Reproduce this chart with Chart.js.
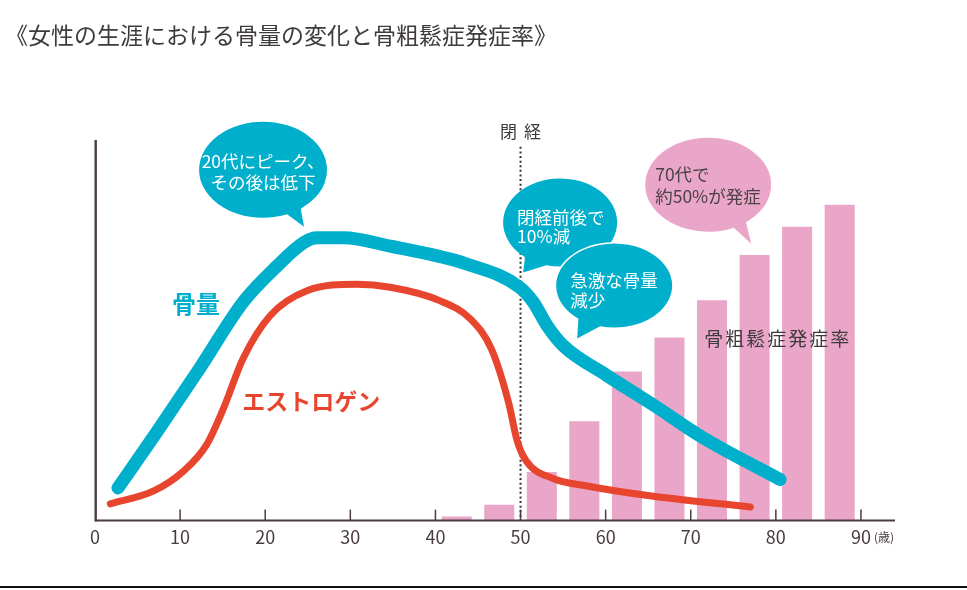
<!DOCTYPE html>
<html lang="ja">
<head>
<meta charset="utf-8">
<script src="https://cdn.jsdelivr.net/npm/chart.js@4/dist/chart.umd.min.js"></script>
<style>
  html, body { margin: 0; padding: 0; background: #fff; }
  canvas { display: block; }
</style>
</head>
<body>
<canvas id="c" width="967" height="590"></canvas>
<script>
// ---------- data ----------
const chartTitle = '《女性の生涯における骨量の変化と骨粗鬆症発症率》';
const ageTicks = [0, 10, 20, 30, 40, 50, 60, 70, 80, 90];
const ageUnit = '(歳)';
const menopauseAge = 50;

const boneAges   = [2.7, 7.3, 12.3, 17.4, 21.4, 24.5, 26.1, 29.2, 34.7, 43.7, 49.9, 51.5, 53.1, 55.0, 60.1, 65.6, 71.5, 80.5];
const boneValues = [8.6, 23.4, 40.0, 57.4, 66.9, 73.0, 74.3, 74.3, 72.1, 67.4, 61.3, 57.4, 51.3, 46.0, 38.2, 30.4, 21.7, 10.8];

const estrogenAges   = [1.8, 6.9, 10.4, 13.1, 15.1, 17.4, 20.6, 24.9, 30.8, 34.7, 40.5, 44.1, 46.6, 48.6, 49.6, 50.7, 53.9, 57.8, 65.6, 77.0];
const estrogenValues = [4.4, 7.8, 13.0, 19.9, 29.5, 42.6, 53.9, 60.4, 62.1, 61.3, 57.8, 53.0, 45.0, 31.0, 21.0, 15.6, 11.0, 9.1, 6.4, 3.6];

const rateAges   = [42.5, 47.5, 52.5, 57.5, 62.5, 67.5, 72.5, 77.5, 82.5, 87.5];
const rateValues = [1.0, 4.1, 12.7, 26.0, 39.1, 48.0, 57.8, 69.7, 77.1, 82.9];

const boneLabel = '骨量';
const estrogenLabel = 'エストロゲン';
const rateLabel = '骨粗鬆症発症率';
const menopauseLabel = '閉経';

// ---------- styles ----------
const CYAN = '#00AFCB';
const RED = '#E8452F';
const PINK = '#EAA6C9';
const AXIS = '#4B3C41';
const TEXT = '#3F3A3B';
const FONT = "'Noto Sans CJK JP', 'Noto Sans', sans-serif";

// annotations placed in data units (age, value)
const labels = [
  { text: boneLabel, x: 11.87, y: 56.9, font: `bold 24px ${FONT}`, color: CYAN, spacing: 0 },
  { text: estrogenLabel, x: 25.4, y: 31.3, font: `bold 23px ${FONT}`, color: RED, spacing: 0 },
  { text: rateLabel, x: 80.1, y: 47.8, font: `19px ${FONT}`, color: TEXT, spacing: 2 },
  { text: menopauseLabel, x: menopauseAge, y: 102.2, font: `17px ${FONT}`, color: TEXT, spacing: 7 }
];

const bubbles = [
  { x: 19.75, y: 92.17, rx: 64, ry: 48, a1: 54, a2: 68, tip: [41, 57], fill: CYAN, color: '#fff',
    lines: ['20代にピーク、', 'その後は低下'], align: 'center', tx: 0, ty: [-8, 13] },
  { x: 54.65, y: 78.33, rx: 57, ry: 44, a1: 104, a2: 128, tip: [-37, 50], fill: CYAN, color: '#fff',
    lines: ['閉経前後で', '10%減'], align: 'left', tx: -43, ty: [-5, 14] },
  { x: 61.0, y: 61.75, rx: 58, ry: 42, a1: 104, a2: 128, tip: [-37, 53], fill: CYAN, color: '#fff', stroke: '#fff',
    lines: ['急激な骨量', '減少'], align: 'left', tx: -44, ty: [-5, 15] },
  { x: 72.05, y: 88.25, rx: 63, ry: 47, a1: 53, a2: 66, tip: [43, 59], fill: PINK, color: '#4A4244',
    lines: ['70代で', '約50%が発症'], align: 'left', tx: -53, ty: [-10, 12] }
];

function rad(d) { return d * Math.PI / 180; }

function drawBubble(ctx, cx, cy, b) {
  const p2 = [cx + b.rx * Math.cos(rad(b.a2)), cy + b.ry * Math.sin(rad(b.a2))];
  const tip = [cx + b.tip[0], cy + b.tip[1]];
  ctx.save();
  ctx.beginPath();
  ctx.moveTo(tip[0], tip[1]);
  ctx.lineTo(p2[0], p2[1]);
  ctx.ellipse(cx, cy, b.rx, b.ry, 0, rad(b.a2), rad(b.a1) + Math.PI * 2, false);
  ctx.closePath();
  ctx.fillStyle = b.fill;
  ctx.fill();
  if (b.stroke) {
    ctx.lineWidth = 3;
    ctx.strokeStyle = b.stroke;
    ctx.lineJoin = 'round';
    ctx.stroke();
    ctx.fill();
  }
  ctx.fillStyle = b.color;
  ctx.font = `17.5px ${FONT}`;
  ctx.textAlign = b.align;
  ctx.textBaseline = 'middle';
  b.lines.forEach((t, i) => ctx.fillText(t, cx + b.tx, cy + b.ty[i]));
  ctx.restore();
}

const deco = {
  id: 'deco',
  beforeDatasetsDraw(chart) {
    const { ctx, scales: { x, y } } = chart;
    const px = x.getPixelForValue(menopauseAge);
    ctx.save();
    ctx.strokeStyle = '#3A3133';
    ctx.lineWidth = 2;
    ctx.setLineDash([2, 2.6]);
    ctx.beginPath();
    ctx.moveTo(px, y.getPixelForValue(98.2));
    ctx.lineTo(px, y.getPixelForValue(0));
    ctx.stroke();
    ctx.restore();
  },
  afterDatasetsDraw(chart) {
    const { ctx, chartArea: ca, scales: { x, y } } = chart;
    ctx.save();
    // axes
    ctx.strokeStyle = AXIS;
    ctx.lineWidth = 2.4;
    ctx.beginPath();
    ctx.moveTo(ca.left + 0.7, ca.top);
    ctx.lineTo(ca.left + 0.7, ca.bottom + 1);
    ctx.stroke();
    ctx.lineWidth = 2;
    ctx.beginPath();
    ctx.moveTo(ca.left, ca.bottom);
    ctx.lineTo(ca.right, ca.bottom);
    ctx.stroke();
    // inward tick marks
    ctx.lineWidth = 1.5;
    ageTicks.forEach(v => {
      if (v === 0) return;
      const px = x.getPixelForValue(v);
      ctx.beginPath();
      ctx.moveTo(px, ca.bottom);
      ctx.lineTo(px, ca.bottom - 11);
      ctx.stroke();
    });
    // unit
    ctx.fillStyle = AXIS;
    ctx.font = `12px ${FONT}`;
    ctx.textAlign = 'left';
    ctx.textBaseline = 'middle';
    ctx.fillText(ageUnit, x.getPixelForValue(90) + 13, ca.bottom + 17);
    // labels
    labels.forEach(l => {
      ctx.font = l.font;
      ctx.fillStyle = l.color;
      ctx.textAlign = 'center';
      ctx.textBaseline = 'middle';
      ctx.letterSpacing = l.spacing + 'px';
      ctx.fillText(l.text, x.getPixelForValue(l.x) + l.spacing / 2, y.getPixelForValue(l.y));
    });
    ctx.letterSpacing = '0px';
    // bubbles
    bubbles.forEach(b => drawBubble(ctx, x.getPixelForValue(b.x), y.getPixelForValue(b.y), b));
    // title
    ctx.fillStyle = TEXT;
    ctx.font = `23px ${FONT}`;
    ctx.textAlign = 'left';
    ctx.textBaseline = 'middle';
    ctx.fillText(chartTitle, 5, 35);
    // bottom rule
    ctx.strokeStyle = '#111';
    ctx.lineWidth = 2;
    ctx.beginPath();
    ctx.moveTo(0, 587);
    ctx.lineTo(chart.width, 587);
    ctx.stroke();
    ctx.restore();
  }
};

Chart.defaults.font.family = FONT;

new Chart(document.getElementById('c'), {
  type: 'line',
  data: {
    datasets: [
      {
        type: 'line', label: boneLabel,
        data: boneAges.map((a, i) => ({ x: a, y: boneValues[i] })),
        borderColor: CYAN, borderWidth: 13, borderCapStyle: 'round', borderJoinStyle: 'round',
        cubicInterpolationMode: 'monotone', pointRadius: 0, fill: false, clip: false, order: 1
      },
      {
        type: 'line', label: estrogenLabel,
        data: estrogenAges.map((a, i) => ({ x: a, y: estrogenValues[i] })),
        borderColor: RED, borderWidth: 7, borderCapStyle: 'round', borderJoinStyle: 'round',
        cubicInterpolationMode: 'monotone', pointRadius: 0, fill: false, clip: false, order: 2
      },
      {
        type: 'bar', label: rateLabel,
        data: rateAges.map((a, i) => ({ x: a, y: rateValues[i] })),
        backgroundColor: PINK, borderWidth: 0, barThickness: 29.4, grouped: false, order: 3
      }
    ]
  },
  options: {
    responsive: false,
    animation: false,
    devicePixelRatio: 1,
    layout: { padding: { left: 95, right: 72, top: 140, bottom: 35.8 } },
    plugins: { legend: { display: false }, title: { display: false }, tooltip: { enabled: false } },
    scales: {
      x: {
        type: 'linear', min: 0, max: 94, offset: false,
        afterBuildTicks: s => { s.ticks = ageTicks.map(v => ({ value: v })); },
        ticks: { autoSkip: false, maxRotation: 0, padding: 6, color: AXIS, font: { size: 18 } },
        grid: { display: false, drawTicks: false, offset: false },
        border: { display: false }
      },
      y: { type: 'linear', min: 0, max: 100, display: false }
    }
  },
  plugins: [deco]
});
</script>
</body>
</html>
